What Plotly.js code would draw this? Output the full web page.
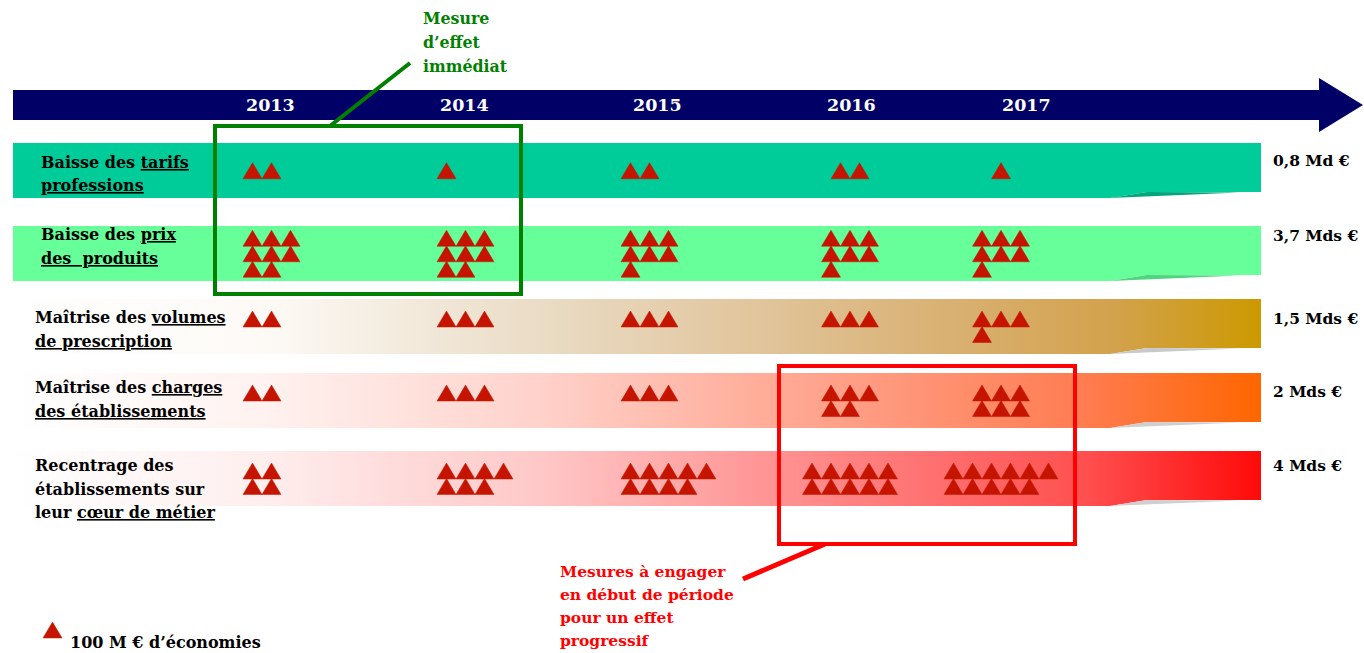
<!DOCTYPE html>
<html><head><meta charset="utf-8">
<script src="https://cdn.plot.ly/plotly-3.0.1.min.js"></script>
<style>html,body{margin:0;padding:0;background:#fff;overflow:hidden}#chart{width:1364px;height:653px}</style>
</head><body><div id="chart"></div>
<script>
// ---------------- data ----------------
const years = ['2013', '2014', '2015', '2016', '2017'];
const measures = [
  'Baisse des <u>tarifs</u><br><u>professions</u>',
  'Baisse des <u>prix</u><br><u>des\u00A0 produits</u>',
  'Maîtrise des <u>volumes</u><br><u>de prescription</u>',
  'Maîtrise des <u>charges</u><br><u>des établissements</u>',
  'Recentrage des<br>établissements sur<br>leur <u>cœur de métier</u>'
];
const totals = ['0,8 Md €', '3,7 Mds €', '1,5 Mds €', '2 Mds €', '4 Mds €'];
// number of triangles (1 triangle = 100 M€) per year
const tarifs     = [2, 1, 2, 2, 1];
const prix       = [8, 8, 7, 7, 7];
const volumes    = [2, 3, 3, 3, 4];
const charges    = [2, 3, 3, 5, 6];
const recentrage = [4, 7, 9, 10, 11];
const legendLabel = '100 M € d’économies';
const noteImmediate = 'Mesure<br>d’effet<br>immédiat';
const noteProgressive = 'Mesures à engager<br>en début de période<br>pour un effet<br>progressif';

// ---------------- layout helpers ----------------
const series = [tarifs, prix, volumes, charges, recentrage];
const W = 1364, H = 653;
const bandTop = [143, 226, 299, 373, 451], bandH = 55, bandX0 = 13, bandX1 = 1261;
const bandColors = [
  [[0, '#00CC99'], [1, '#00CC99']],
  [[0, '#66FF99'], [1, '#66FF99']],
  [[0, '#FFFFFF'], [0.2, '#FDFAF6'], [0.42, '#EADCC6'], [0.58, '#E2C7A0'], [0.72, '#DAB47A'], [0.88, '#D3A24E'], [1, '#CC9900']],
  [[0, '#FFFFFF'], [0.2, '#FFF2F0'], [0.42, '#FFD2CB'], [0.67, '#FF9E86'], [0.86, '#FF7C50'], [1, '#FF6600']],
  [[0, '#FFFFFF'], [0.2, '#FFEEEE'], [0.42, '#FFC8C8'], [0.67, '#FF8282'], [0.86, '#FF4F4F'], [1, '#FF0A0A']]
];
const foldColors = ['#00A67C', '#4FD47F', '#C9C9C9', '#CFCFCF', '#CFCFCF'];
const yearX = [270, 464, 657, 851, 1026];
const anchorX = [243, 437, 621, 850, 1001];
const anchorAlign = ['left', 'left', 'left', 'center', 'center'];
const triW = 19, triH = 16, pitch = 15.5;
const triColor = '#C51400';
const font = 'DejaVu Serif, Liberation Serif, serif';

function splitLines(n, b) {
  const per = b === 4 ? Math.ceil(n / 2) : 3;
  const out = []; let r = n;
  while (r > 0) { out.push(Math.min(per, r)); r -= per; }
  return out;
}
function pushTri(xs, ys, x, y) {
  xs.push(x, x + triW, x + triW / 2, x, null);
  ys.push(y + triH, y + triH, y, y + triH, null);
}

const traces = [];
// bands
series.forEach((s, b) => {
  const t = bandTop[b], bot = t + bandH;
  traces.push({
    type: 'scatter', mode: 'lines', fill: 'toself', hoverinfo: 'skip',
    x: [bandX0, bandX1, bandX1, 1147, 1110, bandX0, bandX0],
    y: [t, t, bot - 6, bot - 6, bot, bot, t],
    line: {width: 0},
    fillcolor: bandColors[b][0][1],
    fillgradient: {type: 'horizontal', start: bandX0, stop: bandX1, colorscale: bandColors[b]}
  });
  traces.push({
    type: 'scatter', mode: 'lines', fill: 'toself', hoverinfo: 'skip',
    x: [1110, 1147, 1240, 1110], y: [bot, bot - 6, bot - 5.6, bot],
    line: {width: 0}, fillcolor: foldColors[b]
  });
});
// triangles
const tx = [], ty = [];
series.forEach((s, b) => {
  const all = s.map(n => splitLines(n, b));
  const M = Math.max(...all.map(l => l.length));
  const blockTop = bandTop[b] + (bandH - M * pitch) / 2;
  all.forEach((ls, yi) => {
    const w0 = ls[0] * triW;
    const left = anchorAlign[yi] === 'center' ? anchorX[yi] - w0 / 2 : anchorX[yi];
    ls.forEach((cnt, li) => {
      for (let k = 0; k < cnt; k++) pushTri(tx, ty, left + k * triW, blockTop + li * pitch);
    });
  });
});
// legend triangle
pushTri(tx, ty, 43, 622);
traces.push({type: 'scatter', mode: 'lines', fill: 'toself', hoverinfo: 'skip',
  x: tx, y: ty, line: {width: 0.5, color: triColor}, fillcolor: triColor});

const annotations = [];
function addText(text, x, yc, size, color, linePitch, anchor) {
  const ls = text.split('<br>');
  ls.forEach((l, i) => annotations.push({
    x: x, y: yc + (i - (ls.length - 1) / 2) * linePitch, xref: 'x', yref: 'y',
    text: '<b>' + l + '</b>', showarrow: false, xanchor: anchor || 'left', yanchor: 'middle',
    font: {family: font, size: size, color: color}
  }));
}
years.forEach((yv, i) => addText(yv, yearX[i], 105, 17.5, '#FFFFFF', 23, 'center'));
const labelX = [39, 39, 33, 33, 33];
const labelY = [174, 246.5, 329.5, 399.5, 489];
measures.forEach((m, i) => addText(m, labelX[i], labelY[i], 16, '#000000', 23.5));
const totalY = [160, 235, 318, 391, 465];
totals.forEach((t, i) => addText(t, 1271, totalY[i], 15.5, '#000000', 23));
addText(legendLabel, 68, 642, 16, '#000000', 23);
addText(noteImmediate, 421, 42, 15.8, '#008000', 24);
addText(noteProgressive, 558, 605.5, 15.5, '#FF0000', 23);

const shapes = [
  {type: 'path', xref: 'x', yref: 'y', layer: 'below', path: 'M13,90 H1319 V78 L1363,105 L1319,132 V120 H13 Z',
   fillcolor: '#000066', line: {width: 0}},
  {type: 'rect', xref: 'x', yref: 'y', layer: 'above', x0: 215, x1: 521, y0: 126, y1: 294, line: {color: '#008000', width: 4}},
  {type: 'line', xref: 'x', yref: 'y', layer: 'above', x0: 330, y0: 126, x1: 410, y1: 63, line: {color: '#008000', width: 4}},
  {type: 'rect', xref: 'x', yref: 'y', layer: 'above', x0: 779, x1: 1075, y0: 366, y1: 544, line: {color: '#FF0000', width: 4}},
  {type: 'line', xref: 'x', yref: 'y', layer: 'above', x0: 825, y0: 544, x1: 743, y1: 579, line: {color: '#FF0000', width: 5}}
];

const layout = {
  width: W, height: H, margin: {l: 0, r: 0, t: 0, b: 0}, paper_bgcolor: '#FFFFFF', plot_bgcolor: '#FFFFFF',
  showlegend: false, hovermode: false,
  xaxis: {range: [0, W], visible: false, fixedrange: true},
  yaxis: {range: [H, 0], visible: false, fixedrange: true},
  annotations, shapes
};
Plotly.newPlot('chart', traces, layout, {displayModeBar: false, staticPlot: true});
</script></body></html>
